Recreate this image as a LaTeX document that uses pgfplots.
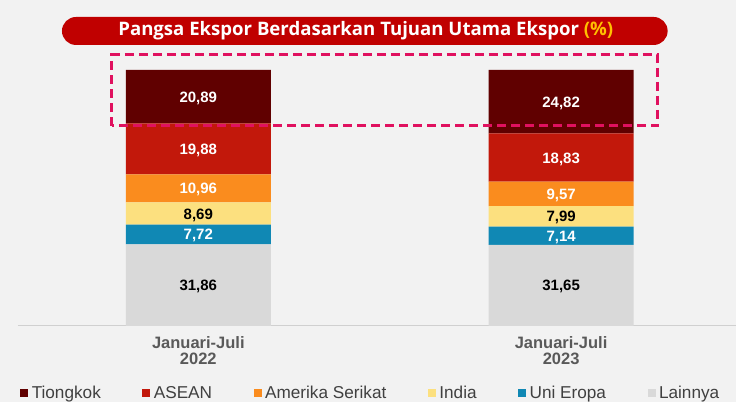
\documentclass[border=0pt]{standalone}
\usepackage{pgfplots}
\pgfplotsset{compat=1.18}
\usepackage{fontspec}
\setmainfont{Liberation Sans}
\newfontfamily\titlefont{Open Sans}

\definecolor{bg}{HTML}{F2F2F2}
\definecolor{banner}{HTML}{C00000}
\definecolor{gold}{HTML}{FFC000}
\definecolor{boxred}{HTML}{E0115F}
\definecolor{cTiongkok}{HTML}{600000}
\definecolor{cASEAN}{HTML}{C2180B}
\definecolor{cAmerika}{HTML}{FA8C1E}
\definecolor{cIndia}{HTML}{FCE07F}
\definecolor{cUni}{HTML}{1088B4}
\definecolor{cLain}{HTML}{D9D9D9}
\definecolor{axisgray}{HTML}{D0D0D0}
\definecolor{labelgray}{HTML}{595959}
\definecolor{legendgray}{HTML}{404040}

\pgfplotsset{
  whitelbl/.style={every node near coord/.append style={text=white}},
  blacklbl/.style={every node near coord/.append style={text=black}},
}

\begin{document}
\begin{tikzpicture}[x=1pt,y=1pt]
\fill[bg] (0,0) rectangle (736,402);
% title banner
\fill[banner, rounded corners=14pt] (62,357) rectangle (668,385);
\node[text=white, font=\titlefont\bfseries\fontsize{18.6}{20}\selectfont] at (366,371.5)
  {Pangsa Ekspor Berdasarkan Tujuan Utama Ekspor \textcolor{gold}{(\%)}};

\begin{axis}[
  at={(18pt,76pt)}, anchor=south west,
  scale only axis, width=718pt, height=256pt,
  ybar stacked, bar width=145pt,
  xmin=-0.497, xmax=1.481, ymin=0, ymax=100,
  axis y line=none, axis x line=bottom,
  x axis line style={-, draw=axisgray, line width=0.8pt},
  xtick={0,1}, xtick style={draw=none},
  xticklabels={{Januari-Juli\\2022},{Januari-Juli\\2023}},
  xticklabel style={align=center, text=labelgray,
    font=\bfseries\fontsize{16.5}{16}\selectfont, yshift=-5pt},
  clip=false,
  /pgf/number format/assume math mode=true,
  nodes near coords={\pgfmathprintnumber[fixed,fixed zerofill,precision=2,use comma]{\pgfplotspointmeta}},
  every node near coord/.append style={
    font=\bfseries\fontsize{15}{16}\selectfont, anchor=center, yshift=-1.5pt},
  reverse legend,
  legend columns=6,
  legend cell align=left,
  legend style={at={(0.4916,-0.262)}, anchor=center, draw=none, fill=none,
    font=\fontsize{17.2}{17}\selectfont, text=legendgray,
    /tikz/every odd column/.append style={column sep=1.5pt},
    /tikz/every even column/.append style={column sep=39.5pt}},
  legend image code/.code={\fill[#1] (0pt,-4pt) rectangle (8pt,4pt);},
]
\addplot[fill=cLain, draw=none, blacklbl] coordinates {(0,31.86) (1,31.65)};
\addlegendentry{Lainnya}
\addplot[fill=cUni, draw=none, whitelbl] coordinates {(0,7.72) (1,7.14)};
\addlegendentry{Uni Eropa}
\addplot[fill=cIndia, draw=none, blacklbl] coordinates {(0,8.69) (1,7.99)};
\addlegendentry{India}
\addplot[fill=cAmerika, draw=none, whitelbl] coordinates {(0,10.96) (1,9.57)};
\addlegendentry{Amerika Serikat}
\addplot[fill=cASEAN, draw=none, whitelbl] coordinates {(0,19.88) (1,18.83)};
\addlegendentry{ASEAN}
\addplot[fill=cTiongkok, draw=none, whitelbl] coordinates {(0,20.89) (1,24.82)};
\addlegendentry{Tiongkok}
\end{axis}

% highlight box
\draw[boxred, line width=3pt, dash pattern=on 9pt off 5pt] (112,276) rectangle (658,347);
\end{tikzpicture}
\end{document}
